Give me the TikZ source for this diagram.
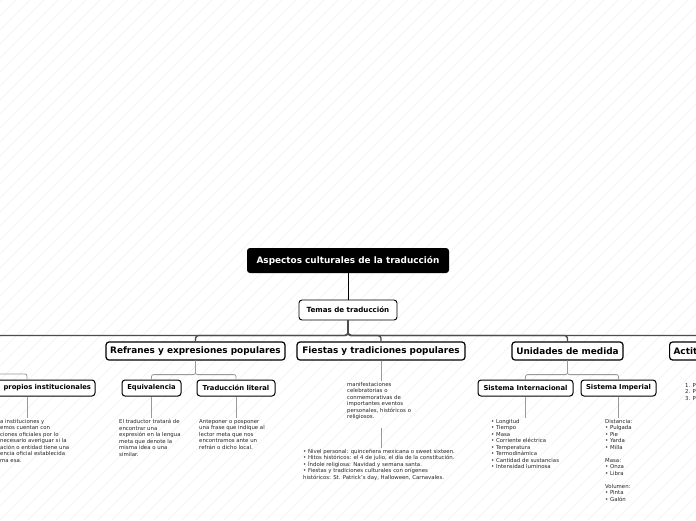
\documentclass[tikz,border=0pt]{standalone}
\usepackage{fontspec}
\setmainfont{DejaVu Sans}
\usetikzlibrary{calc}
\tikzset{raiz/.style={fill=black,text=white,rounded corners=3pt,font=\bfseries\fontsize{8.9}{9}\selectfont,minimum width=202pt,minimum height=25pt}}
\tikzset{tema/.style={draw=black,fill=white,line width=0.9pt,rounded corners=3pt,font=\bfseries\fontsize{7.1}{8}\selectfont,minimum width=98pt,minimum height=20pt}}
\tikzset{nivel/.style={draw=black,fill=white,line width=1.2pt,rounded corners=3pt,font=\bfseries\fontsize{8.9}{9}\selectfont,minimum height=18pt,inner xsep=4pt}}
\tikzset{sub/.style={draw=black,fill=white,line width=1pt,rounded corners=3pt,font=\bfseries\fontsize{6.8}{7}\selectfont,minimum height=16pt,inner xsep=4pt}}
\tikzset{hoja/.style={font=\fontsize{5.4}{6.5}\selectfont,align=left,inner sep=0pt,anchor=north west,text=black!85}}
\tikzset{bus/.style={draw=black!70,line width=1.4pt,rounded corners=3pt}}
\tikzset{rama/.style={draw=black!40,line width=0.8pt,rounded corners=2pt}}
\tikzset{fondo/.style={draw=black!5,line width=0.4pt}}

\begin{document}
\begin{tikzpicture}[x=1pt,y=-1pt]
  \useasboundingbox (0,0) rectangle (696,520);
  \clip (0,0) rectangle (696,520);
  \fill[white] (0,0) rectangle (696,520);
  % fondo rayado
  \foreach \i in {-532,-518,...,696}
    \draw[fondo] (\i,520) -- ++(520,-520);

  % raiz y tema
  \node[raiz] (raiz) at (348,260.5) {Aspectos culturales de la traducción};
  \node[tema] (temas) at (348,310) {Temas de traducción};
  \draw[black,line width=1pt] (raiz) -- (temas);

  % primer nivel
  \coordinate (izq) at (-30,342);
  \coordinate (izqb) at (-30,360);
  \node[nivel,minimum width=179pt] (refr) at (195.5,351) {Refranes y expresiones populares};
  \node[nivel,minimum width=168pt] (fies) at (381,351) {Fiestas y tradiciones populares};
  \node[nivel,minimum width=111pt] (unid) at (567.5,351) {Unidades de medida};
  \node[nivel,anchor=west,text width=52pt,align=left] (acti) at (669,351) {Actit};
  \draw[black,line width=1pt] (temas.south) -- ++(0,15);
  \foreach \n in {izq,refr,fies,unid,acti}
    \draw[bus] (temas.south) -- ++(0,15) -| (\n.north);

  % segundo nivel
  \node[sub,text width=128pt,align=right] (inst) at (27,388) {propios institucionales};
  \node[sub,minimum width=59pt] (equi) at (151.5,388) {Equivalencia};
  \node[sub,minimum width=78pt] (lite) at (236,388) {Traducción literal};
  \node[sub,minimum width=95pt] (sint) at (525.5,388) {Sistema Internacional};
  \node[sub,minimum width=75pt] (simp) at (618.5,388) {Sistema Imperial};
  \draw[rama] (izqb) -- ++(0,14) -| (inst.north);
  \foreach \n in {equi,lite}
    \draw[rama] (refr.south) -- ++(0,14) -| (\n.north);
  \foreach \n in {sint,simp}
    \draw[rama] (unid.south) -- ++(0,14) -| (\n.north);

  % textos
  \node[hoja] (insttxt) at (0,419) {a instituciones y\\emos cuentan con\\ciones oficiales por lo\\necesario averiguar si la\\ación o entidad tiene una\\encia oficial establecida\\ma esa.};
  \node[hoja] (equitxt) at (119,419) {El traductor tratará de\\encontrar una\\expresión en la lengua\\meta que denote la\\misma idea o una\\similar.};
  \node[hoja] (litetxt) at (199,419) {Anteponer o posponer\\una frase que indique al\\lector meta que nos\\encontramos ante un\\refrán o dicho local.};
  \node[hoja] (fiestxt) at (347,382) {manifestaciones\\celebratorias o\\conmemorativas de\\importantes eventos\\personales, históricos o\\religiosos.};
  \node[hoja] (fiesej) at (303,449) {• Nivel personal: quinceñera mexicana o sweet sixteen.\\• Hitos históricos: el 4 de julio, el día de la constitución.\\• Índole religiosa: Navidad y semana santa.\\• Fiestas y tradiciones culturales con orígenes\\históricos: St. Patrick's day, Halloween, Carnavales.};
  \node[hoja] (sinttxt) at (491,419) {• Longitud\\• Tiempo\\• Masa\\• Corriente eléctrica\\• Temperatura\\• Termodinámica\\• Cantidad de sustancias\\• Intensidad luminosa};
  \node[hoja] (simptxt) at (605,419) {Distancia:\\• Pulgada\\• Pie\\• Yarda\\• Milla\\[6.5pt]Masa:\\• Onza\\• Libra\\[6.5pt]Volumen:\\• Pinta\\• Galón};
  \node[hoja] (actitxt) at (685,383) {1. P\\2. P\\3. P};

  \draw[rama] (inst.south) -- ++(0,21);
  \draw[rama] (equi.south) -- ++(0,21);
  \draw[rama] (lite.south) -- ++(0,21);
  \draw[rama] (sint.south) -- ++(0,21);
  \draw[rama] (simp.south) -- ++(0,21);
  \draw[rama] (fies.south) -- ++(0,20);
  \draw[rama] ($(fies.south)+(0,67)$) -- ++(0,20);
\end{tikzpicture}
\end{document}
